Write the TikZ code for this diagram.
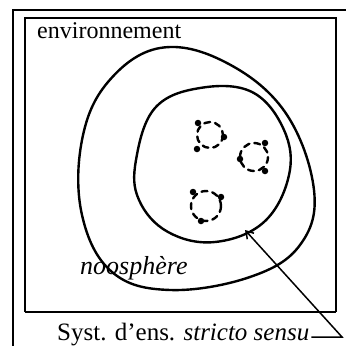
\documentclass[tikz,border=0pt]{standalone}
\usepackage{fontspec}
\setmainfont{Liberation Serif}
\usetikzlibrary{arrows.meta}
\begin{document}
\begin{tikzpicture}[x=1pt,y=-1pt,
  blob/.style={line width=2.4pt},
  dcirc/.style={line width=2.4pt, dash pattern=on 6pt off 5pt, line cap=round},
  dot/.style={circle, fill=black, inner sep=0pt, minimum size=6.5pt},
  lab/.style={inner sep=0pt, font=\fontsize{24}{26}\selectfont}]
\useasboundingbox (0,0) rectangle (346,346);
\fill[white] (0,0) rectangle (346,346);
% outer frame (top and left)
\draw[line width=2pt] (13,346) -- (13,10) -- (346,10);
% inner box
\draw[line width=2pt] (25,312) -- (25,18) -- (336,18) -- (336,312);
\draw[line width=2.8pt] (25,312) -- (336,312);
\node[lab, anchor=base west] (env) at (37,38) {environnement};
% noosphere blob
\draw[blob] plot[smooth cycle, tension=0.65] coordinates {
 (160,48) (225,62) (285,112) (314,190) (300,245) (250,277) (170,290) (112,272) (82,215) (82,140) (108,82)};
% inner system blob
\draw[blob] plot[smooth cycle, tension=0.65] coordinates {
 (136,160) (155,108) (200,88) (252,92) (284,130) (289,175) (264,222) (215,242) (168,232) (139,200)};
\node[lab, anchor=base west, font=\fontsize{26}{28}\selectfont\itshape] (noo) at (80,274) {noosphère};
% dashed circles
\draw[dcirc] (210,135) circle (13);
\node[dot] (a1) at (198,123) {};
\node[dot] (a2) at (224,137) {};
\node[dot] (a3) at (197,149) {};
\draw[dcirc] (254,157) circle (14);
\node[dot] (b1) at (265,143) {};
\node[dot] (b2) at (240,159) {};
\node[dot] (b3) at (265,171) {};
\draw[dcirc] (206,206) circle (15);
\node[dot] (c1) at (193,192) {};
\node[dot] (c2) at (221,197) {};
\node[dot] (c3) at (201,221) {};
% label and arrow
\node[lab, anchor=base west, font=\fontsize{25}{27}\selectfont] (syst) at (57,340) {Syst. d’ens. \textit{stricto sensu}};
\coordinate (bend) at (342,337);
\coordinate (tip) at (245,230);
\draw[line width=1.5pt, -{Straight Barb[length=7pt,width=9pt]}] (syst.east) ++(2pt,-3pt) -- (bend) -- (tip);
\end{tikzpicture}
\end{document}
